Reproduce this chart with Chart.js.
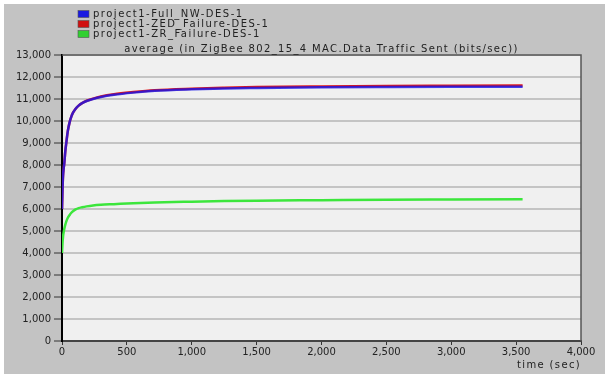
<!DOCTYPE html>
<html>
<head>
<meta charset="utf-8">
<script src="https://cdn.jsdelivr.net/npm/chart.js@4/dist/chart.umd.min.js"></script>
<style>
  html, body { margin: 0; padding: 0; background: #ffffff; }
  #wrap { position: absolute; left: 4px; top: 4px; width: 601px; height: 370px; background: #c3c3c3; }
  #c { position: absolute; left: 0; top: 0; }
</style>
</head>
<body>
<div id="wrap"></div>
<canvas id="c" width="605" height="374"></canvas>
<script>
// ---- data ----
const chartTitle = "average (in ZigBee 802_15_4 MAC.Data Traffic Sent (bits/sec))";
const xAxisTitle = "time (sec)";
const seriesNames = ["project1-Full_NW-DES-1", "project1-ZED_Failure-DES-1", "project1-ZR_Failure-DES-1"];
const times =      [0,    4,    8,    13,   18,   25,   34,   45,   59,   72,    87,    105,   128,   155,   190,   239,   300,   400,   550,   715,   1000,  1250,  1500,  2000,  2500,  3000,  3550];
const fullNW =     [6000, 6900, 7500, 7850, 8100, 8600, 9050, 9550, 9950, 10200, 10400, 10560, 10700, 10810, 10910, 11000, 11090, 11190, 11290, 11370, 11440, 11480, 11500, 11530, 11545, 11555, 11560];
const zedFailure = [6000, 6900, 7500, 7850, 8100, 8600, 9050, 9550, 9950, 10200, 10400, 10560, 10700, 10815, 10920, 11015, 11110, 11215, 11315, 11400, 11470, 11510, 11540, 11570, 11590, 11600, 11610];
const zrFailure =  [4000, 4450, 4750, 4950, 5100, 5280, 5450, 5600, 5730, 5830,  5910,  5980,  6040,  6080,  6120,  6160,  6190,  6220,  6265,  6300,  6335,  6360,  6380,  6400,  6420,  6430,  6440];
const xTickValues = [0, 500, 1000, 1500, 2000, 2500, 3000, 3500, 4000];
const yTickValues = [0, 1000, 2000, 3000, 4000, 5000, 6000, 7000, 8000, 9000, 10000, 11000, 12000, 13000];

const seriesValues = [fullNW, zedFailure, zrFailure];
const seriesColors = ["rgba(20,20,235,0.8)", "rgb(225,25,25)", "rgb(60,230,60)"];
const legendColors = ["#1a1ae0", "#d01010", "#30d030"];
const drawOrder = [0, 1, 2];

const FONT = "'DejaVu Sans', sans-serif";
const TXT = "#222222";

const datasets = seriesNames.map((name, i) => ({
  label: name,
  data: times.map((t, j) => ({ x: t, y: seriesValues[i][j] })),
  borderColor: seriesColors[i],
  backgroundColor: seriesColors[i],
  borderWidth: 2.5,
  pointRadius: 0,
  showLine: true,
  cubicInterpolationMode: 'monotone',
  fill: false,
  order: drawOrder[i]
}));

const decor = {
  id: 'decor',
  beforeDraw(chart) {
    const { ctx, chartArea: a } = chart;
    ctx.save();
    ctx.fillStyle = '#f0f0f0';
    ctx.fillRect(a.left, a.top, a.right - a.left, a.bottom - a.top);
    ctx.restore();
  },
  afterDraw(chart) {
    const { ctx, chartArea: a } = chart;
    ctx.save();
    // plot frame (top & right)
    ctx.strokeStyle = '#555555';
    ctx.lineWidth = 1.5;
    ctx.beginPath();
    ctx.moveTo(a.left, a.top);
    ctx.lineTo(a.right, a.top);
    ctx.lineTo(a.right, a.bottom);
    ctx.stroke();
    ctx.letterSpacing = '1.35px';
    // title
    ctx.fillStyle = TXT;
    ctx.font = "10px " + FONT;
    ctx.textAlign = 'center';
    ctx.textBaseline = 'middle';
    ctx.fillText(chartTitle, (a.left + a.right) / 2, 49);
    // x axis title
    ctx.textAlign = 'right';
    ctx.fillText(xAxisTitle, a.right, 365);
    // legend
    ctx.textAlign = 'left';
    ctx.letterSpacing = '1.5px';
    seriesNames.forEach((name, i) => {
      const yc = 14 + i * 10;
      ctx.fillStyle = legendColors[i];
      ctx.fillRect(78, yc - 3.5, 11, 7);
      ctx.strokeStyle = '#555';
      ctx.lineWidth = 0.6;
      ctx.strokeRect(78, yc - 3.5, 11, 7);
      ctx.fillStyle = TXT;
      ctx.fillText(name, 93, yc);
    });
    ctx.restore();
  }
};

new Chart(document.getElementById('c'), {
  type: 'scatter',
  data: { datasets },
  options: {
    responsive: false,
    animation: false,
    layout: { padding: { top: 55, right: 24, left: 0, bottom: 0 } },
    plugins: { legend: { display: false }, title: { display: false }, tooltip: { enabled: false } },
    scales: {
      x: {
        type: 'linear',
        min: 0, max: 4000,
        afterBuildTicks(scale) { scale.ticks = xTickValues.map(v => ({ value: v })); },
        afterFit(scale) { scale.height = 33; },
        grid: { drawOnChartArea: false, drawTicks: true, tickLength: 4, tickColor: '#333', tickWidth: 1 },
        border: { color: '#444', width: 2 },
        ticks: {
          color: TXT, padding: 1, maxRotation: 0, autoSkip: false,
          font: { family: FONT, size: 10 },
          callback: v => v.toLocaleString('en-US')
        }
      },
      y: {
        type: 'linear',
        min: 0, max: 13000,
        afterBuildTicks(scale) { scale.ticks = yTickValues.map(v => ({ value: v })); },
        afterFit(scale) { scale.width = 62; },
        grid: { color: '#c4c4c4', lineWidth: 2, drawTicks: true, tickLength: 8, tickColor: '#333', tickWidth: 1 },
        border: { color: '#000', width: 2 },
        ticks: {
          color: TXT, padding: 3, autoSkip: false,
          font: { family: FONT, size: 10 },
          callback: v => v.toLocaleString('en-US')
        }
      }
    }
  },
  plugins: [decor]
});
</script>
</body>
</html>
